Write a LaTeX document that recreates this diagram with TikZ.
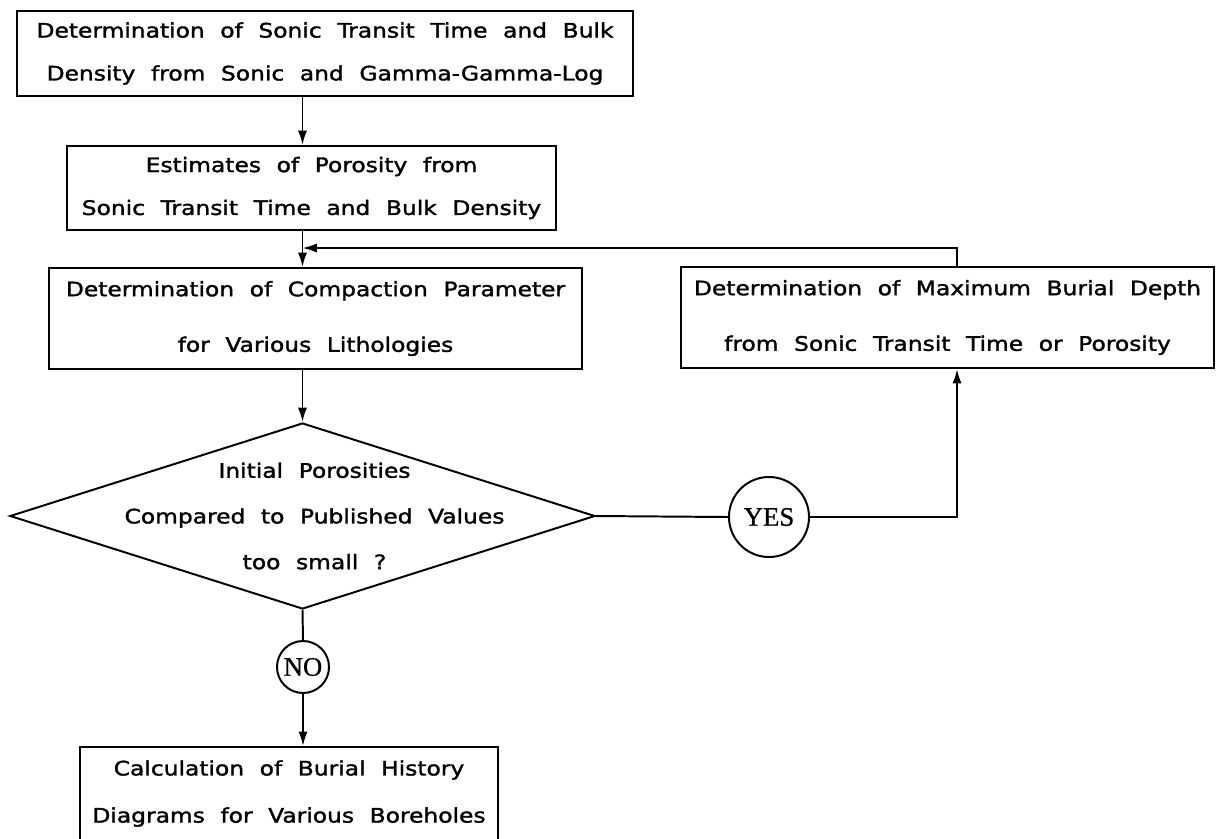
\documentclass[tikz,border=0pt]{standalone}
\usepackage{fontspec}
\usetikzlibrary{shapes.geometric,arrows.meta}
\newfontfamily\plotfont[FakeStretch=1.17,FakeBold=1.6,WordSpace=2.1]{DejaVu Sans}
\newfontfamily\answerfont[FakeBold=0.8]{Liberation Serif}

\begin{document}
\begin{tikzpicture}[
    x=0.025cm, y=-0.025cm,
    line width=1.4pt,
    every node/.style={font=\plotfont\fontsize{14.2pt}{30.5pt}\selectfont},
    stepbox/.style={draw, align=center, inner sep=0pt},
    decision/.style={draw, diamond, aspect=3.145, inner sep=0pt,
                     minimum width=14.625cm, minimum height=4.65cm},
    answer/.style={draw, circle, inner sep=0pt,
                   font=\answerfont\fontsize{19pt}{22pt}\selectfont},
    flow/.style={-{Latex[length=3.6mm,width=2.3mm]}},
  ]
    % page frame in pixels of the original (y grows downwards)
    \useasboundingbox (0,0) rectangle (1216,838);

    % x of the feedback branch
    \def\xloop{957}
    \def\yloop{248}

    % Main column
    \node[stepbox, minimum width=15.4cm, minimum height=2.125cm] (dens) at (325,53.5)
      {Determination of Sonic Transit Time and Bulk\\Density from Sonic and Gamma-Gamma-Log};
    \node[stepbox, minimum width=12.225cm, minimum height=2.1cm] (poro) at (311.5,188)
      {Estimates of Porosity from\\Sonic Transit Time and Bulk Density};
    \node[stepbox, minimum width=13.325cm, minimum height=2.525cm] (comp) at (315.5,318.5)
      {Determination of Compaction Parameter\\[9pt]for Various Lithologies};
    \node[decision, label={[align=center, xshift=0.3cm]center:Initial Porosities\\[2pt]Compared to Published Values\\[2pt]too small ?}]
      (check) at (302.5,516) {};
    \node[answer, minimum size=1.3cm] (no) at (303,667) {NO};
    \node[stepbox, minimum width=10.45cm, minimum height=2.325cm] (hist) at (289,793.5)
      {Calculation of Burial History\\[3pt]Diagrams for Various Boreholes};

    % Right branch
    \node[answer, minimum size=2cm] (yes) at (769,517) {YES};
    \node[stepbox, minimum width=13.3cm, minimum height=2.525cm] (depth) at (947.5,317.5)
      {Determination of Maximum Burial Depth\\[9pt]from Sonic Transit Time or Porosity};
    \coordinate (loopx) at (\xloop,\yloop);
    \coordinate (loop) at (302.5,\yloop);

    % Connectors
    \draw[flow] (dens.south -| check.north) -- (poro.north -| check.north);
    \draw[flow] (poro.south -| check.north) -- (comp.north -| check.north);
    \draw[flow] (comp.south -| check.north) -- (check.north);
    \draw (check.south) -- (no.north);
    \draw[flow] (no.south) -- (hist.north -| no.south);
    \draw (check.east) -- (yes.west);
    \draw[flow] (yes.east) -| (depth.south -| loopx);
    \draw[flow] (depth.north -| loopx) |- (loop);

  \end{tikzpicture}
\end{document}
